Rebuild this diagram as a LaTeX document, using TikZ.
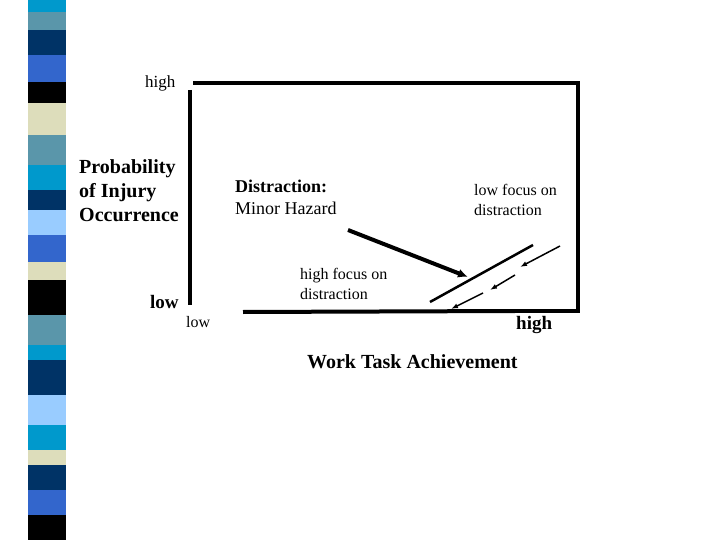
\documentclass[tikz,border=0pt]{standalone}
\usepackage{fontspec}
\setmainfont{Liberation Serif}
\usetikzlibrary{arrows.meta}
\begin{document}
\begin{tikzpicture}[x=1pt,y=-1pt,
  lbl/.style={inner sep=0pt,anchor=west,align=left},
  thick line/.style={line width=4pt},
  arr/.style={line width=1.5pt,-{Latex[length=7pt,width=5pt]}}]
\useasboundingbox (0,0) rectangle (720,540);
% stripe
\foreach \a/\b/\c in {0/12/{0,153,204},12/30/{90,150,170},30/55/{0,51,102},55/82/{51,102,204},82/103/{0,0,0},103/135/{221,221,187},135/165/{90,150,170},165/190/{0,153,204},190/210/{0,51,102},210/235/{153,204,255},235/262/{51,102,204},262/280/{221,221,187},280/315/{0,0,0},315/345/{90,150,170},345/360/{0,153,204},360/395/{0,51,102},395/425/{153,204,255},425/450/{0,153,204},450/465/{221,221,187},465/490/{0,51,102},490/515/{51,102,204},515/540/{0,0,0}}{
  \definecolor{sc}{RGB}{\c}
  \fill[sc] (28,\a) rectangle (66,\b);
}
% box
\coordinate (tl) at (193,83); \coordinate (tr) at (578,83);
\coordinate (br) at (578,311); \coordinate (bm) at (515,311);
\coordinate (bl) at (243,312); \coordinate (lt) at (190,90); \coordinate (lb) at (190,305);
\draw[thick line] (tl) -- (tr) -- (br) -- (bm);
\draw[thick line] (bm) -- (bl);
\draw[thick line] (lt) -- (lb);
% lines
\coordinate (d1) at (430,302); \coordinate (d2) at (533,245);
\draw[line width=2.5pt] (d1) -- (d2);
\coordinate (a1) at (348,230); \coordinate (a2) at (468,277);
\draw[line width=4pt,-{Latex[length=10pt,width=9pt]}] (a1) -- (a2);
\coordinate (s1) at (560,246); \coordinate (s2) at (520,267);
\coordinate (s3) at (515,275); \coordinate (s4) at (490,290);
\coordinate (s5) at (483,293); \coordinate (s6) at (451,309);
\draw[arr] (s1) -- (s2);
\draw[arr] (s3) -- (s4);
\draw[arr] (s5) -- (s6);
% texts
\node[lbl,font=\fontsize{17}{19}\selectfont] (hy) at (145,83) {high};
\node[lbl,font=\bfseries\fontsize{20}{24}\selectfont] (pr) at (79,191) {Probability\\of Injury\\Occurrence};
\node[lbl,font=\bfseries\fontsize{19}{21}\selectfont] (ly) at (150,302) {low};
\node[lbl,font=\fontsize{16}{19}\selectfont] (lx) at (186,322) {low};
\node[lbl,font=\bfseries\fontsize{19}{21}\selectfont] (hx) at (516,325) {high};
\node[lbl,font=\bfseries\fontsize{20}{22}\selectfont] (wt) at (307,362) {Work Task Achievement};
\node[lbl,font=\fontsize{18}{22}\selectfont] (dm) at (235,197) {\textbf{Distraction:}\\Minor Hazard};
\node[lbl,font=\fontsize{16}{20}\selectfont] (lf) at (474,200) {low focus on\\distraction};
\node[lbl,font=\fontsize{16}{20}\selectfont] (hf) at (300,284) {high focus on\\distraction};
\end{tikzpicture}
\end{document}
